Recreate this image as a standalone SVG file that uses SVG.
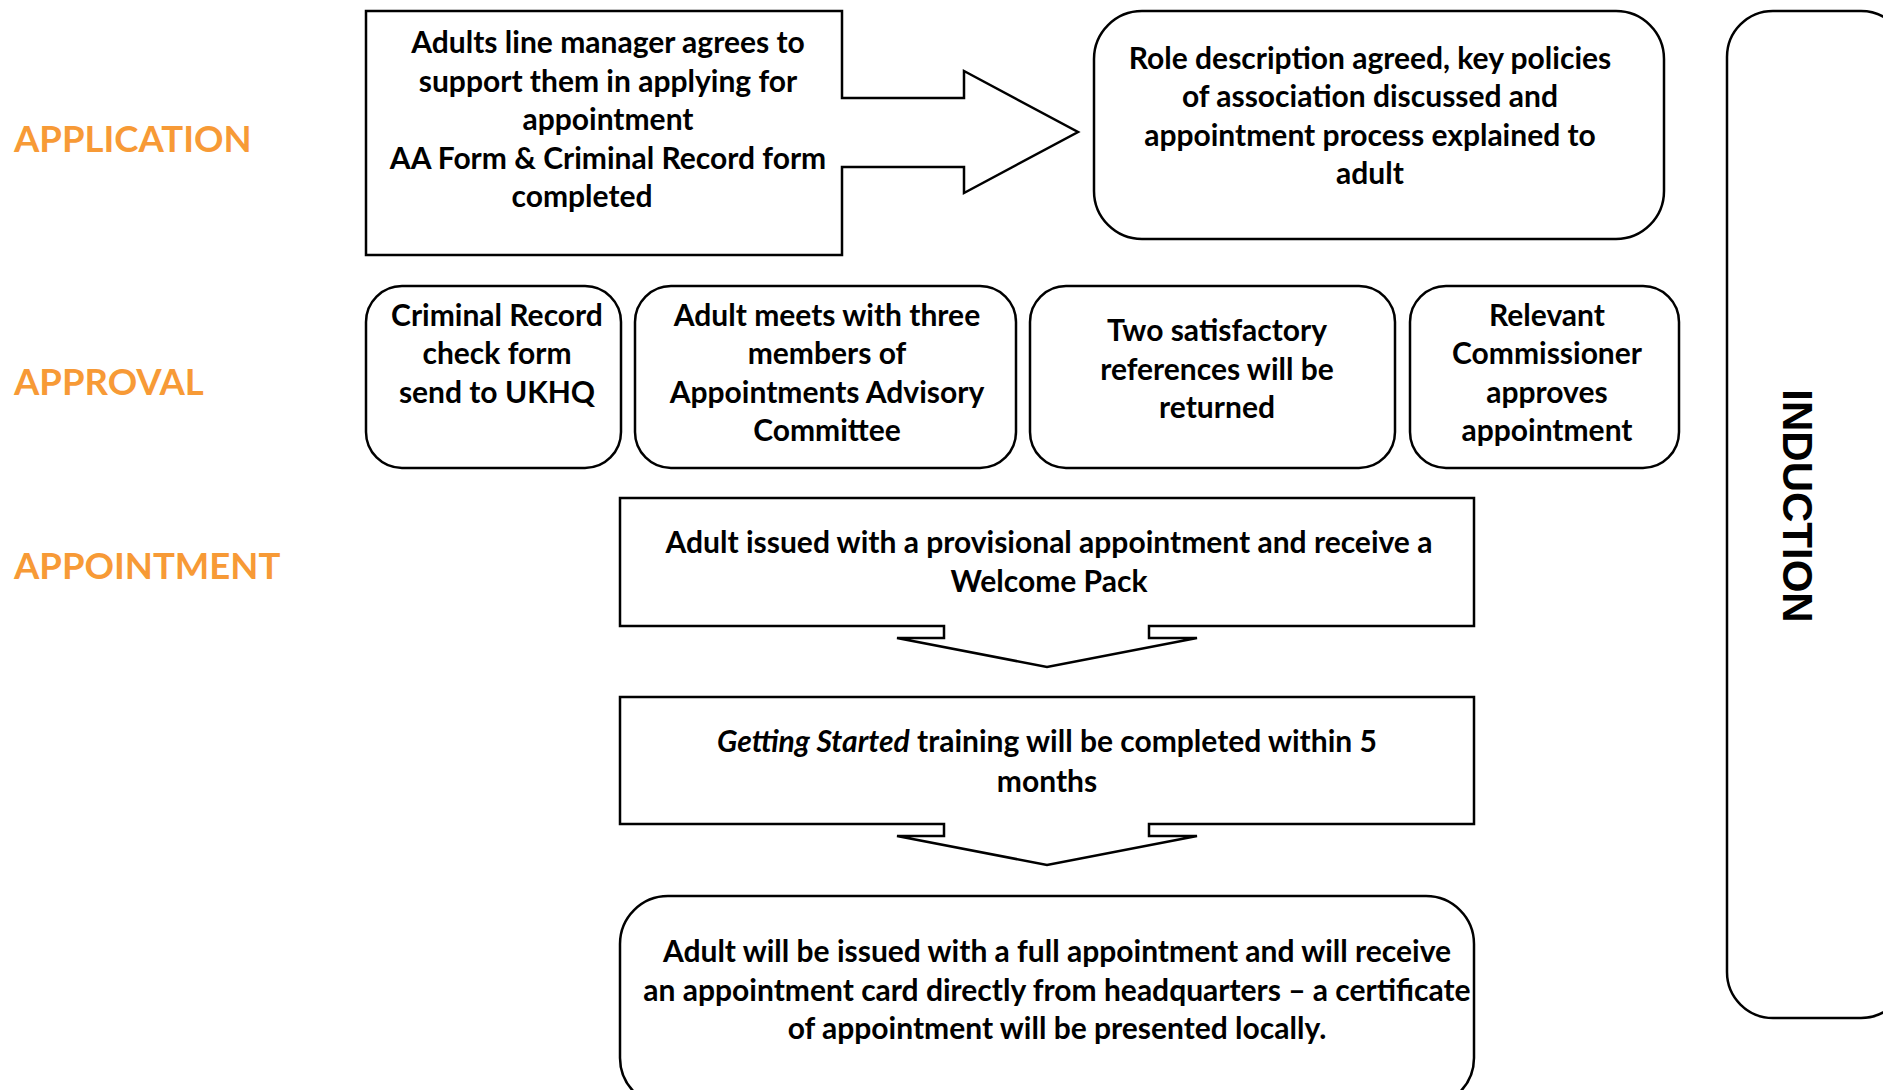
<svg xmlns="http://www.w3.org/2000/svg" width="1883" height="1090" viewBox="0 0 1883 1090">
<style>
.shape{fill:#fff;stroke:#000;stroke-width:2.5;stroke-linejoin:miter}
.t{font-family:Lato,"Liberation Sans",sans-serif;font-weight:700;font-size:30px;fill:#000;text-anchor:middle}
.lbl{font-family:Lato,"Liberation Sans",sans-serif;font-weight:700;font-size:36.5px;fill:#F79A36}
.ind{font-family:"Liberation Sans",Arial,sans-serif;font-weight:700;font-size:42px;fill:#000;text-anchor:middle}
</style>
<rect width="1883" height="1090" fill="#fff"/>
<g id="labels">
<text class="lbl" x="14" y="152">APPLICATION</text>
<text class="lbl" x="14" y="395">APPROVAL</text>
<text class="lbl" x="14" y="579">APPOINTMENT</text>
</g>
<g id="induction">
<rect class="shape" x="1727" y="11" width="180" height="1007" rx="46" ry="46"/>
<text class="ind" transform="translate(1783,506) rotate(90)" x="0" y="0">INDUCTION</text>
</g>
<g id="node-application">
<path class="shape" d="M366,11 H842 V98 H964 V71 L1078,132 L964,193 V167 H842 V255 H366 Z"/>
<text class="t" x="608" y="53">Adults line manager agrees to</text>
<text class="t" x="608" y="92">support them in applying for</text>
<text class="t" x="608" y="130">appointment</text>
<text class="t" x="608" y="169">AA Form &amp; Criminal Record form</text>
<text class="t" x="582" y="207">completed</text>
</g>
<g id="node-role">
<rect class="shape" x="1094" y="11" width="570" height="228" rx="48" ry="48"/>
<text class="t" x="1370" y="69">Role description agreed, key policies</text>
<text class="t" x="1370" y="107">of association discussed and</text>
<text class="t" x="1370" y="146">appointment process explained to</text>
<text class="t" x="1370" y="184">adult</text>
</g>
<g id="node-crb">
<rect class="shape" x="366" y="286" width="255" height="182" rx="36" ry="36"/>
<text class="t" x="497" y="326">Criminal Record</text>
<text class="t" x="497" y="364">check form</text>
<text class="t" x="497" y="403">send to UKHQ</text>
</g>
<g id="node-aac">
<rect class="shape" x="635" y="286" width="381" height="182" rx="36" ry="36"/>
<text class="t" x="827" y="326">Adult meets with three</text>
<text class="t" x="827" y="364">members of</text>
<text class="t" x="827" y="403">Appointments Advisory</text>
<text class="t" x="827" y="441">Committee</text>
</g>
<g id="node-refs">
<rect class="shape" x="1030" y="286" width="365" height="182" rx="36" ry="36"/>
<text class="t" x="1217" y="341">Two satisfactory</text>
<text class="t" x="1217" y="380">references will be</text>
<text class="t" x="1217" y="418">returned</text>
</g>
<g id="node-commissioner">
<rect class="shape" x="1410" y="286" width="269" height="182" rx="36" ry="36"/>
<text class="t" x="1547" y="326">Relevant</text>
<text class="t" x="1547" y="364">Commissioner</text>
<text class="t" x="1547" y="403">approves</text>
<text class="t" x="1547" y="441">appointment</text>
</g>
<g id="node-provisional">
<path class="shape" d="M620,498 H1474 V626 H1149 V638 H1197 L1047,667 L897,638 H944 V626 H620 Z"/>
<text class="t" x="1049" y="553">Adult issued with a provisional appointment and receive a</text>
<text class="t" x="1049" y="592">Welcome Pack</text>
</g>
<g id="node-training">
<path class="shape" d="M620,697 H1474 V824 H1149 V836 H1197 L1047,865 L897,836 H944 V824 H620 Z"/>
<text class="t" x="1047" y="752"><tspan font-style="italic">Getting Started</tspan> training will be completed within 5</text>
<text class="t" x="1047" y="792">months</text>
</g>
<g id="node-full">
<rect class="shape" x="620" y="896" width="854" height="210" rx="48" ry="48"/>
<text class="t" x="1057" y="962"> Adult will be issued with a full appointment and will receive</text>
<text class="t" x="1057" y="1001">an appointment card directly from headquarters – a certificate</text>
<text class="t" x="1057" y="1039">of appointment will be presented locally.</text>
</g>
<g id="connectors"></g>
</svg>
